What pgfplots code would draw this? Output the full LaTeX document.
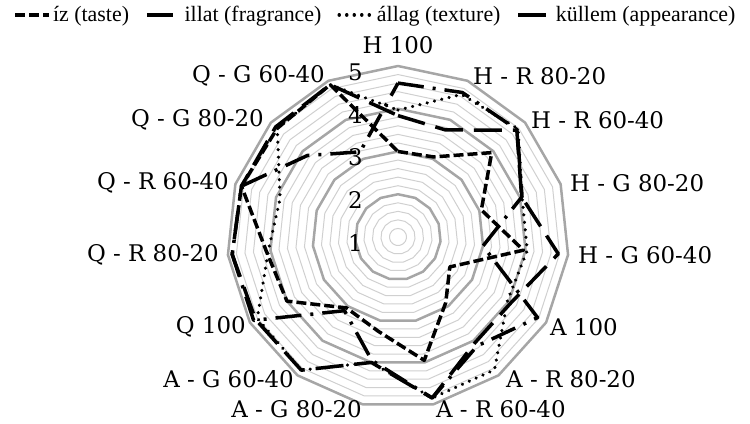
\documentclass[border=0pt]{standalone}
\usepackage{fontspec}
\setmainfont{DejaVu Serif}
\newfontfamily\legfont{Liberation Serif}
\usepackage{pgfplots}
\usepackage{pgfplotstable}
\pgfplotsset{compat=1.18}

\definecolor{gridminor}{RGB}{208,208,208}
\definecolor{gridmajor}{RGB}{166,166,166}
\newcommand\lab{\fontsize{23}{27}\selectfont}

% scores per category, k = 0..14 clockwise from the top (row 15 closes the polygon)
\pgfplotstableread{
k  taste illat allag kullem
0  3.00  4.60  3.97  3.84
1  3.05  4.70  4.65  3.74
2  3.95  4.75  4.78  4.74
3  3.05  4.05  4.05  4.04
4  3.95  3.00  4.04  4.77
5  2.40  4.77  3.96  4.06
6  2.90  4.15  4.84  4.06
7  3.95  4.85  4.85  4.85
8  3.25  3.95  4.00  4.00
9  3.05  3.13  4.85  4.85
10 4.00  4.90  4.80  4.85
11 4.10  4.90  4.05  4.90
12 4.85  4.85  3.90  4.85
13 4.80  3.85  4.80  4.85
14 4.90  3.18  4.90  4.90
15 3.00  4.60  3.97  3.84
}\data

\begin{document}
\begin{tikzpicture}
\begin{axis}[
    x=42.75bp, y=42.75bp,
    xmin=-9.3099, xmax=8.2339, ymin=-4.3509, ymax=5.5439,
    hide axis, clip=false,
    legend columns=-1,
    legend style={at={(rel axis cs:0.5007,0.99)}, anchor=north, draw=none, fill=none,
        inner sep=0pt, font=\legfont\fontsize{22}{25}\selectfont,
        /tikz/every even column/.append style={column sep=14bp}},
    legend image code/.code={\draw[#1] (0bp,0bp) -- (34bp,0bp);},
    every axis plot/.append style={line join=round},
    radar/.style={black, line width=3.5bp},
]
% grid rings, every 0.2 from the centre value 1 out to 5
\pgfplotsinvokeforeach{1,2,3,4,6,7,8,9,11,12,13,14,16,17,18,19}{
  \addplot[gridminor, line width=1bp, forget plot]
    table[x expr={0.2*#1*sin(24*\thisrow{k})}, y expr={0.2*#1*cos(24*\thisrow{k})}] {\data};
}
\pgfplotsinvokeforeach{5,10,15,20}{
  \addplot[gridmajor, line width=2.5bp, forget plot]
    table[x expr={0.2*#1*sin(24*\thisrow{k})}, y expr={0.2*#1*cos(24*\thisrow{k})}] {\data};
}

\addplot[radar, dash pattern=on 10bp off 4bp]
  table[x expr={(\thisrow{taste}-1)*sin(24*\thisrow{k})}, y expr={(\thisrow{taste}-1)*cos(24*\thisrow{k})}] {\data};
\addlegendentry{íz (taste)}
\addplot[radar, dash pattern=on 26bp off 9bp on 3bp off 9bp]
  table[x expr={(\thisrow{illat}-1)*sin(24*\thisrow{k})}, y expr={(\thisrow{illat}-1)*cos(24*\thisrow{k})}] {\data};
\addlegendentry{illat (fragrance)}
\addplot[radar, line cap=round, dash pattern=on 0.01bp off 7.5bp]
  table[x expr={(\thisrow{allag}-1)*sin(24*\thisrow{k})}, y expr={(\thisrow{allag}-1)*cos(24*\thisrow{k})}] {\data};
\addlegendentry{állag (texture)}
\addplot[radar, dash pattern=on 28bp off 11bp]
  table[x expr={(\thisrow{kullem}-1)*sin(24*\thisrow{k})}, y expr={(\thisrow{kullem}-1)*cos(24*\thisrow{k})}] {\data};
\addlegendentry{küllem (appearance)}

% radial axis labels
\begin{scope}[every node/.style={anchor=east, inner sep=0pt, font=\lab}]
\node at (rel axis cs:0.484,0.8298) {5};
\node at (rel axis cs:0.484,0.7281) {4};
\node at (rel axis cs:0.484,0.6288) {3};
\node at (rel axis cs:0.484,0.5272) {2};
\node at (rel axis cs:0.484,0.4255) {1};
\end{scope}

% category labels
\begin{scope}[every node/.style={inner sep=0pt, font=\lab}]
\node[anchor=center] at (rel axis cs:0.5307,0.8936) {H 100};
\node[anchor=west] at (rel axis cs:0.6307,0.8203) {H - R 80-20};
\node[anchor=west] at (rel axis cs:0.7080,0.7163) {H - R 60-40};
\node[anchor=west] at (rel axis cs:0.7600,0.5674) {H - G 80-20};
\node[anchor=west] at (rel axis cs:0.7707,0.3972) {H - G 60-40};
\node[anchor=west] at (rel axis cs:0.7333,0.2270) {A 100};
\node[anchor=west] at (rel axis cs:0.6747,0.1040) {A - R 80-20};
\node[anchor=west] at (rel axis cs:0.5813,0.0330) {A - R 60-40};
\node[anchor=east] at (rel axis cs:0.4827,0.0330) {A - G 80-20};
\node[anchor=east] at (rel axis cs:0.3920,0.1040) {A - G 60-40};
\node[anchor=east] at (rel axis cs:0.3280,0.2270) {Q 100};
\node[anchor=east] at (rel axis cs:0.2920,0.3972) {Q - R 80-20};
\node[anchor=east] at (rel axis cs:0.3053,0.5674) {Q - R 60-40};
\node[anchor=east] at (rel axis cs:0.3520,0.7163) {Q - G 80-20};
\node[anchor=east] at (rel axis cs:0.4333,0.8203) {Q - G 60-40};
\end{scope}
\end{axis}
\pgfresetboundingbox
\useasboundingbox (current axis.south west) rectangle (current axis.north east);
\end{tikzpicture}
\end{document}
